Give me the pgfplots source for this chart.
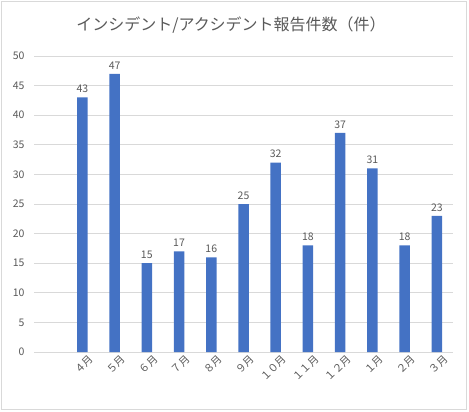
\documentclass[border=0pt]{standalone}
\usepackage{pgfplots}
\pgfplotsset{compat=1.18}
\usepackage{fontspec}
\setmainfont{Noto Sans CJK JP}
\definecolor{barblue}{HTML}{4472C4}
\definecolor{gridgray}{HTML}{D9D9D9}
\definecolor{txtgray}{HTML}{595959}
\begin{document}
\begin{tikzpicture}[x=1bp,y=1bp]
\useasboundingbox (0,0) rectangle (469,411);
\draw[gridgray, line width=1bp] (1.5,1.5) rectangle (466.5,409.5);
\node[txtgray, font=\fontsize{16bp}{19bp}\selectfont] at (231,386) {インシデント/アクシデント報告件数（件）};
\begin{axis}[
  at={(34bp,59bp)}, anchor=south west,
  scale only axis, width=419bp, height=296bp,
  xmin=-0.5, xmax=12.5, ymin=0, ymax=50,
  ytick={0,5,...,50},
  xtick={1,...,12},
  xticklabels={４月,５月,６月,７月,８月,９月,１０月,１１月,１２月,１月,２月,３月},
  axis line style={draw=none},
  tick style={draw=none},
  ymajorgrids, major grid style={gridgray, line width=0.9bp},
  /pgf/number format/assume math mode=true,
  ticklabel style={txtgray, font=\fontsize{10.5bp}{12bp}\selectfont},
  yticklabel style={anchor=east, xshift=-6bp},
  xticklabel style={rotate=45, anchor=east, inner sep=1bp, xshift=4bp, yshift=-10bp},
  nodes near coords,
  every node near coord/.append style={txtgray, font=\fontsize{10.5bp}{12bp}\selectfont, yshift=1bp},
]
\addplot[ybar, bar width=10.5bp, fill=barblue, draw=none] coordinates {
(1,43) (2,47) (3,15) (4,17) (5,16) (6,25) (7,32) (8,18) (9,37) (10,31) (11,18) (12,23)
};
\end{axis}
\end{tikzpicture}
\end{document}
